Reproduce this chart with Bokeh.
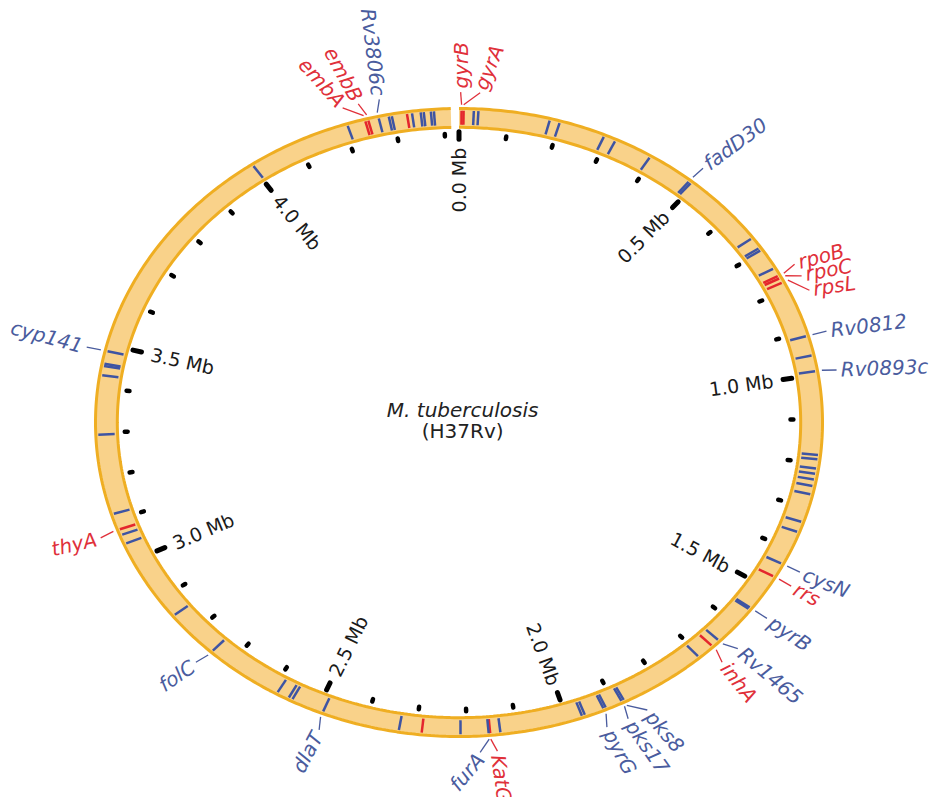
import numpy as np
from bokeh.plotting import figure
from bokeh.models import Range1d
from bokeh.core.properties import value
from bokeh.embed import file_html
from bokeh.resources import INLINE

# ---------------- data ----------------
genome_mb = 4.41          # chromosome length (Mb)
turn_mb = 4.43            # Mb per full turn of the map

major_ticks = [0.0, 0.5, 1.0, 1.5, 2.0, 2.5, 3.0, 3.5, 4.0]
major_labels = ["0.0 Mb", "0.5 Mb", "1.0 Mb", "1.5 Mb", "2.0 Mb",
                "2.5 Mb", "3.0 Mb", "3.5 Mb", "4.0 Mb"]
minor_ticks = [0.1, 0.2, 0.3, 0.4, 0.6, 0.7, 0.8, 0.9, 1.1, 1.2, 1.3, 1.4,
               1.6, 1.7, 1.8, 1.9, 2.1, 2.2, 2.3, 2.4, 2.6, 2.7, 2.8, 2.9,
               3.1, 3.2, 3.3, 3.4, 3.6, 3.7, 3.8, 3.9, 4.1, 4.2, 4.3, 4.4]

gene_names = ["gyrB", "gyrA", "fadD30", "rpoB", "rpoC", "rpsL", "Rv0812",
              "Rv0893c", "cysN", "rrs", "pyrB", "Rv1465", "inhA", "pks8",
              "pks17", "pyrG", "KatG", "furA", "dlaT", "folC", "thyA",
              "cyp141", "embA", "embB", "Rv3806c"]
gene_pos = [0.005, 0.009, 0.486, 0.763, 0.769, 0.780, 0.910,
            0.991, 1.438, 1.471, 1.555, 1.651, 1.669, 1.881,
            1.886, 1.925, 2.154, 2.157, 2.487, 2.744, 3.076,
            3.485, 4.245, 4.251, 4.272]
gene_class = ["drug", "drug", "other", "drug", "drug", "drug", "other",
              "other", "other", "drug", "other", "other", "drug", "other",
              "other", "other", "drug", "other", "other", "other", "drug",
              "other", "drug", "drug", "other"]

other_pos = [0.029, 0.038, 0.179, 0.199, 0.291, 0.315, 0.392, 0.491, 0.664,
             0.690, 0.696, 0.744, 0.955, 1.181, 1.191, 1.212, 1.224, 1.237,
             1.252, 1.271, 1.336, 1.360, 1.559, 1.705, 1.920, 1.964, 1.970,
             2.134, 2.212, 2.288, 2.333, 2.553, 2.561, 2.586, 2.854, 3.042,
             3.063, 3.113, 3.295, 3.430, 3.451, 3.456, 4.003, 4.209, 4.292,
             4.298, 4.328, 4.338, 4.355, 4.361, 4.375, 4.381]
other_class = ["other"] * 29 + ["drug"] + ["other"] * 16 + ["drug"] + ["other"] * 5

# ---------------- layout / style ----------------
W, H = 936, 797
CX, CY = 458.5, 422.0      # ring centre in figure pixels
RX, RY = 363.5, 314.0      # outer ring radii in pixels
R_OUT, R_IN = 1.0, 0.94
COLORS = {"drug": "#E4262D", "other": "#3E54A3"}
TEXT_COLORS = {"drug": "#E0303A", "other": "#4A5C9E"}
FONT = value("DejaVu Sans")

# where each label sits along the map (Mb) and its text rotation (deg)
label_at = {"gyrB": 0.003, "gyrA": 0.039, "fadD30": 0.488, "rpoB": 0.755,
            "rpoC": 0.783, "rpsL": 0.817, "Rv0812": 0.910, "Rv0893c": 0.995,
            "cysN": 1.439, "rrs": 1.473, "pyrB": 1.555, "Rv1465": 1.639,
            "inhA": 1.680, "pks8": 1.852, "pks17": 1.892, "pyrG": 1.935,
            "KatG": 2.144, "furA": 2.176, "dlaT": 2.479, "folC": 2.750,
            "thyA": 3.071, "cyp141": 3.485, "embA": 4.212, "embB": 4.242,
            "Rv3806c": 4.282}
label_rot = {"gyrB": 90, "gyrA": 68, "fadD30": 36, "rpoB": 15, "rpoC": 11,
             "rpsL": 8, "Rv0812": 7, "Rv0893c": 2, "cysN": -22, "rrs": -28,
             "pyrB": -34, "Rv1465": -40, "inhA": -52, "pks8": -50,
             "pks17": -55, "pyrG": -62, "KatG": -82, "furA": 50, "dlaT": 62,
             "folC": 34, "thyA": 13, "cyp141": -15, "embA": -48,
             "embB": -62, "Rv3806c": -83}
reads_inward = {"furA", "dlaT", "folC", "thyA", "cyp141", "embA", "embB",
                "Rv3806c"}


def theta(pos):
    return 2 * np.pi * np.asarray(pos, dtype=float) / turn_mb


def xy(pos, r):
    t = theta(pos)
    return r * np.sin(t), r * np.cos(t)


def radial_px_angle(t):
    return np.arctan2(RY * np.cos(t), RX * np.sin(t))


p = figure(width=W, height=H,
           x_range=Range1d(-CX / RX, (W - CX) / RX),
           y_range=Range1d(-(H - CY) / RY, CY / RY),
           output_backend="svg", toolbar_location=None,
           x_axis_location=None, y_axis_location=None,
           min_border=0, outline_line_color=None)
p.grid.visible = False
p.background_fill_color = "white"

# ring
ring_pos = np.linspace(0.0, 4.414, 600)
ox, oy = xy(ring_pos, R_OUT)
ix, iy = xy(ring_pos[::-1], R_IN)
p.patch(np.concatenate([ox, ix]), np.concatenate([oy, iy]),
        fill_color="#F9D28A", line_color=None)
p.line(ox, oy, line_color="#EFAE22", line_width=3)
p.line(ix, iy, line_color="#EFAE22", line_width=3)

# bands
all_pos = list(gene_pos) + list(other_pos)
all_cls = list(gene_class) + list(other_class)
bx0, by0 = xy(all_pos, 0.948)
bx1, by1 = xy(all_pos, 0.993)
p.segment(x0=bx0, y0=by0, x1=bx1, y1=by1,
          line_color=[COLORS[c] for c in all_cls], line_width=2.5)

# ticks
mx0, my0 = xy(major_ticks, 0.902)
mx1, my1 = xy(major_ticks, 0.926)
p.segment(x0=mx0, y0=my0, x1=mx1, y1=my1, line_color="black",
          line_width=5, line_cap="round")
nx0, ny0 = xy(minor_ticks, 0.912)
nx1, ny1 = xy(minor_ticks, 0.920)
p.segment(x0=nx0, y0=ny0, x1=nx1, y1=ny1, line_color="black",
          line_width=4.5, line_cap="round")

# tick labels (right half reads outward, left half reads inward)
tt = theta(major_ticks)
tx, ty = xy(major_ticks, 0.875)
t_ang, t_align = [], []
for t in tt:
    deg = np.degrees(t)
    phi = radial_px_angle(t)
    if 0 <= deg < 180:
        t_ang.append(phi); t_align.append("right")
    else:
        t_ang.append(phi + np.pi); t_align.append("left")
p.text(x=tx, y=ty, text=major_labels, angle=t_ang, text_align=t_align,
       text_baseline="middle", text_font=FONT, text_font_size="19px",
       text_color="#1a1a1a")

# gene leaders & labels
lx0, ly0, lx1, ly1, lcol = [], [], [], [], []
gx, gy, gang, galign, gcol = [], [], [], [], []
for name, pos, cls in zip(gene_names, gene_pos, gene_class):
    lp = label_at[name]
    a, b = xy(pos, 1.012)
    c, d = xy(lp, 1.052)
    lx0.append(a); ly0.append(b); lx1.append(c); ly1.append(d)
    lcol.append(TEXT_COLORS[cls])
    e, f = xy(lp, 1.064)
    gx.append(e); gy.append(f); gcol.append(TEXT_COLORS[cls])
    gang.append(np.radians(label_rot[name]))
    galign.append("right" if name in reads_inward else "left")
p.segment(x0=lx0, y0=ly0, x1=lx1, y1=ly1, line_color=lcol, line_width=1.3)
p.text(x=gx, y=gy, text=gene_names, angle=gang, text_align=galign,
       text_baseline="middle", text_font=FONT, text_font_size="20px",
       text_font_style="italic", text_color=gcol)

# centre caption
p.text(x=[0.01], y=[0.041], text=["M. tuberculosis"], text_align="center",
       text_baseline="middle", text_font=FONT, text_font_size="20px",
       text_font_style="italic", text_color="#222222")
p.text(x=[0.01], y=[-0.027], text=["(H37Rv)"], text_align="center",
       text_baseline="middle", text_font=FONT, text_font_size="20px",
       text_color="#222222")

open("out.html", "w").write(file_html(p, INLINE))
